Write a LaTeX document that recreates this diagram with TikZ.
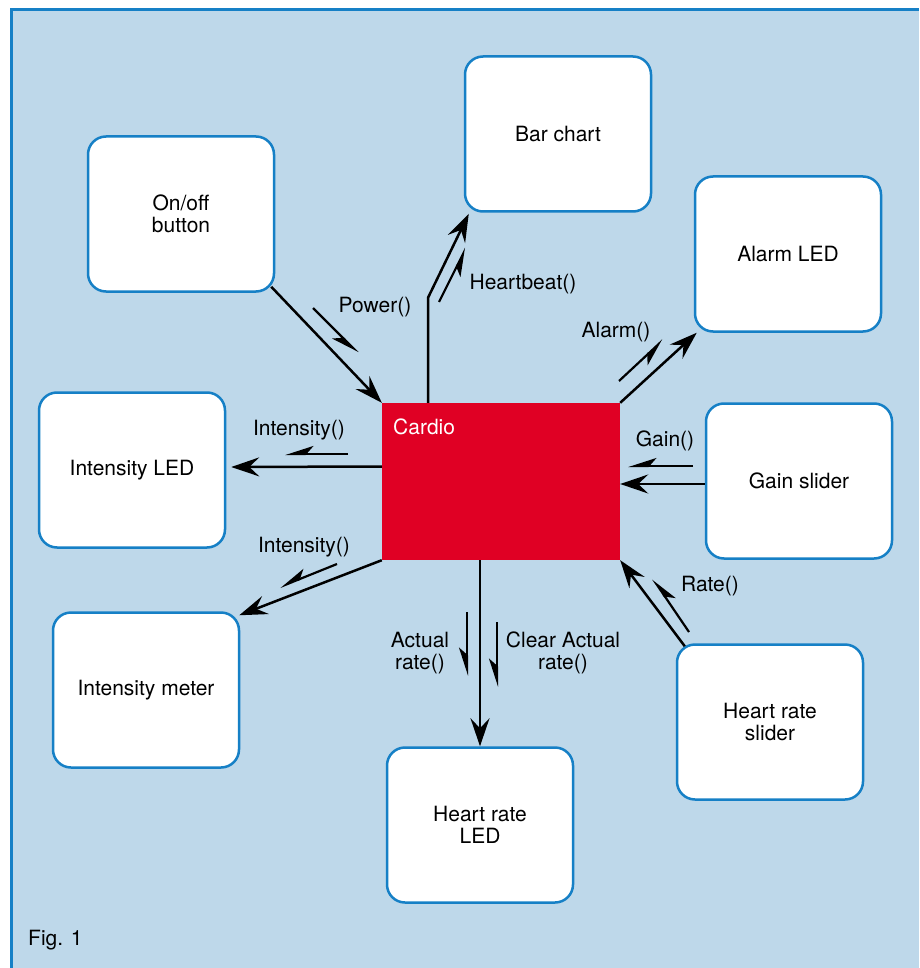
\documentclass[tikz,border=0pt]{standalone}
\usepackage{fontspec}
\setmainfont{TeX Gyre Heros}
\usetikzlibrary{arrows.meta}
\definecolor{panelblue}{RGB}{190,216,234}
\definecolor{edgeblue}{RGB}{22,128,198}
\definecolor{cardiored}{RGB}{224,0,36}
\tikzstyle{block}=[draw=edgeblue,fill=white,line width=2.5pt,rounded corners=18pt,minimum width=186pt,minimum height=155pt,align=center,inner sep=0pt]
\tikzstyle{link}=[line width=2.5pt,-{Stealth[length=28pt,width=19pt,inset=10pt]}]
\tikzstyle{msg}=[line width=2.2pt,-{Stealth[harpoon,swap,length=25pt,width=16pt,inset=7pt]}]
\tikzstyle{call}=[align=center,inner sep=0pt]

\begin{document}
\begin{tikzpicture}[x=1pt,y=-1pt,font=\fontsize{21}{22}\selectfont]
  \useasboundingbox (0,0) rectangle (919,968);
  \fill[panelblue] (10,8) rectangle (919,968);
  \draw[edgeblue,line width=3pt] (11,968) -- (11,9.5) -- (919,9.5);

  \foreach \name/\x/\y/\text in {bar/558/134/Bar chart, onoff/181/214/{On/off\\button},
                                 alarm/788/254/Alarm LED, iled/132/470/Intensity LED,
                                 gain/799/481/Gain slider, imeter/146/690/Intensity meter,
                                 hrslider/770/722/{Heart rate\\slider}, hrled/480/825/{Heart rate\\LED}}
    \node[block] (\name) at (\x,\y) {\text};

  \node[fill=cardiored,minimum width=238pt,minimum height=157pt,inner sep=0pt] (cardio) at (501,481.5) {};
  \node[white,anchor=west,inner sep=0pt] (cardiotext) at (393,427) {Cardio};

  \coordinate (gain-port) at ([yshift=-3pt]gain.west);
  \draw[link] ([xshift=-4pt,yshift=6pt]onoff.south east) -- (cardio.north west);
  \draw[link] ([xshift=-73pt]cardio.north) -- ++(0,-105) -- ([xshift=5pt,yshift=-1pt]bar.south west);
  \draw[link] (cardio.north east) -- ([xshift=3pt]alarm.south west);
  \draw[link] ([yshift=15pt]cardio.west) -- ([xshift=5pt,yshift=3pt]iled.east);
  \draw[link] (cardio.south west) -- ([xshift=-1pt,yshift=-4pt]imeter.north east);
  \draw[link] (cardio.south -| hrled.north) -- (hrled.north);
  \draw[link] (gain-port) -- (cardio.east |- gain-port);
  \draw[link] ([xshift=9pt,yshift=-3pt]hrslider.north west) -- (cardio.south east);

  % message arrows
  \foreach \name/\ax/\ay/\bx/\by in {power/313/308/358/353, beat/439/302/466/248,
                                     ping/619/381/663/340, ileda/348/454/285/454,
                                     imetera/337/564/280/587, actual/467/612/467/676,
                                     clear/497/622/497/687, gainin/693/466/628/466,
                                     rate/689/632/653/579}
  {
    \coordinate (\name-a) at (\ax,\ay);
    \coordinate (\name-b) at (\bx,\by);
    \draw[msg] (\name-a) -- (\name-b);
  }

  \node[call] (t-power) at (375,307) {Power()};
  \node[call] (t-beat) at (523,284) {Heartbeat()};
  \node[call] (t-alarm) at (616,332) {Alarm()};
  \node[call] (t-iled) at (299,430) {Intensity()};
  \node[call] (t-imeter) at (304,547) {Intensity()};
  \node[call] (t-actual) at (420,653) {Actual\\rate()};
  \node[call] (t-clear) at (563,653) {Clear Actual\\rate()};
  \node[call] (t-gain) at (665,441) {Gain()};
  \node[call] (t-rate) at (710,586) {Rate()};
  \node[anchor=west,inner sep=0pt] (fig) at (28,940) {Fig. 1};
\end{tikzpicture}
\end{document}
